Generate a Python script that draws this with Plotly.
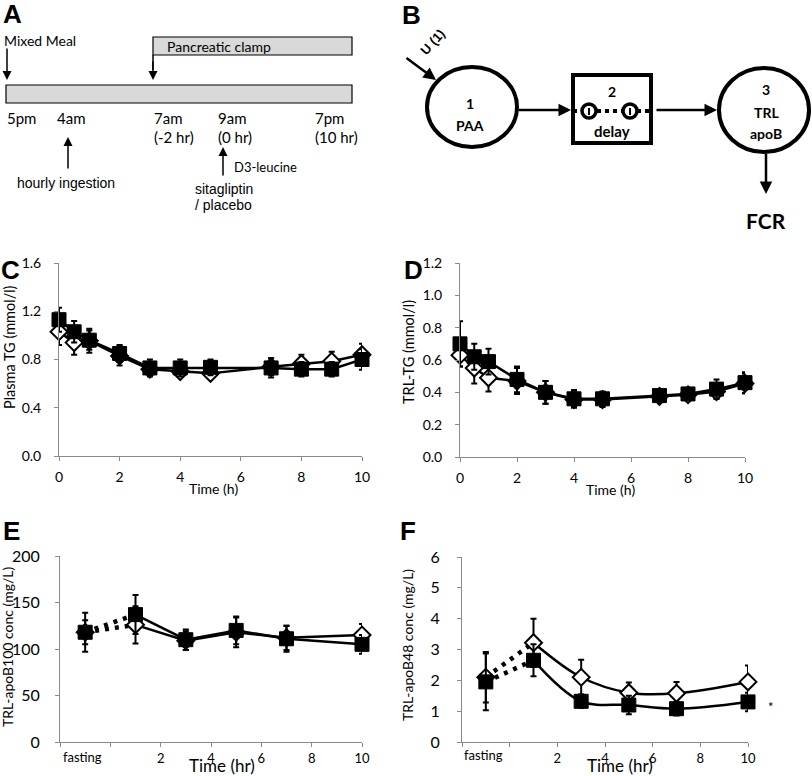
import plotly.graph_objects as go

# ---- data ----
# panel C: plasma TG (mmol/l)
c_time = [0, 0.5, 1, 2, 3, 4, 5, 7, 8, 9, 10]
c_sita = [1.13, 1.03, 0.96, 0.85, 0.73, 0.73, 0.735, 0.73, 0.72, 0.72, 0.80]
c_sita_err = [0.10, 0.09, 0.08, 0.07, 0.07, 0.07, 0.065, 0.08, 0.06, 0.06, 0.085]
c_plac = [1.03, 0.94, 0.955, 0.83, 0.72, 0.70, 0.685, 0.74, 0.765, 0.785, 0.84]
c_plac_err = [0.11, 0.10, 0.10, 0.08, 0.05, 0.03, 0.045, 0.07, 0.075, 0.08, 0.09]

# panel D: TRL-TG (mmol/l)
d_time = [0, 0.5, 1, 2, 3, 4, 5, 7, 8, 9, 10]
d_sita = [0.70, 0.62, 0.59, 0.48, 0.40, 0.36, 0.36, 0.38, 0.39, 0.42, 0.46]
d_sita_err = [0.14, 0.08, 0.08, 0.08, 0.07, 0.055, 0.045, 0.03, 0.035, 0.06, 0.065]
d_plac = [0.63, 0.55, 0.49, 0.47, 0.40, 0.355, 0.355, 0.375, 0.385, 0.405, 0.455]
d_plac_err = [0.07, 0.095, 0.085, 0.08, 0.07, 0.045, 0.045, 0.035, 0.035, 0.045, 0.06]

# panels E/F: first point is "fasting"
ef_time = [-1, 1, 3, 5, 7, 10]
e_sita = [118, 137, 110, 120, 111, 105]
e_sita_err = [13, 21, 11, 15, 14, 10]
e_plac = [118, 126, 109, 118, 112, 115]
e_plac_err = [21, 20, 10, 16, 13, 12]

f_sita = [1.95, 2.65, 1.32, 1.20, 1.08, 1.30]
f_sita_err = [0.92, 0.52, 0.22, 0.30, 0.22, 0.30]
f_plac = [2.10, 3.22, 2.10, 1.60, 1.58, 1.95]
f_plac_err = [0.82, 0.78, 0.57, 0.33, 0.37, 0.53]

W, H = 812, 776
FONT = "Lato, Liberation Sans, sans-serif"
ARIAL = "Liberation Sans, Arial, sans-serif"


def dom_x(a, b):
    return [a / W, b / W]


def dom_y(top, bottom):
    return [1 - bottom / H, 1 - top / H]


fig = go.Figure()

# invisible trace so the drawing axis (whole page, pixel units) exists
fig.add_trace(go.Scatter(x=[0], y=[0], mode="markers", xaxis="x5", yaxis="y5",
                         marker=dict(opacity=0), hoverinfo="skip"))


def add_series(xa, ya, x, sita, sita_err, plac, plac_err, shape="linear", fasting=False):
    start = 1 if fasting else 0
    for ys in (plac, sita):
        if fasting:
            fig.add_trace(go.Scatter(x=x[:2], y=ys[:2], mode="lines", xaxis=xa, yaxis=ya,
                                     line=dict(color="black", width=4.5, dash="4px,6px"),
                                     cliponaxis=False))
        fig.add_trace(go.Scatter(x=x[start:], y=ys[start:], mode="lines", xaxis=xa, yaxis=ya,
                                 line=dict(color="black", width=2.5, shape=shape, smoothing=1),
                                 cliponaxis=False))
    fig.add_trace(go.Scatter(x=x, y=plac, mode="markers", xaxis=xa, yaxis=ya, cliponaxis=False,
                             marker=dict(symbol="diamond", size=13, color="white",
                                         line=dict(color="black", width=2)),
                             error_y=dict(type="data", array=plac_err, color="black",
                                          thickness=2, width=3)))
    fig.add_trace(go.Scatter(x=x, y=sita, mode="markers", xaxis=xa, yaxis=ya, cliponaxis=False,
                             marker=dict(symbol="square", size=14, color="black",
                                         line=dict(color="black", width=1)),
                             error_y=dict(type="data", array=sita_err, color="black",
                                          thickness=2, width=3)))


add_series("x", "y", c_time, c_sita, c_sita_err, c_plac, c_plac_err)
add_series("x2", "y2", d_time, d_sita, d_sita_err, d_plac, d_plac_err)
add_series("x3", "y3", ef_time, e_sita, e_sita_err, e_plac, e_plac_err, fasting=True)
add_series("x4", "y4", ef_time, f_sita, f_sita_err, f_plac, f_plac_err, shape="spline", fasting=True)

axis_common = dict(showline=True, linecolor="#8a8a8a", linewidth=1, ticks="outside",
                   ticklen=4, tickcolor="#8a8a8a", showgrid=False, zeroline=False,
                   automargin=False,
                   tickfont=dict(family=FONT, size=14, color="black"))

fig.update_layout(
    template="none",
    width=W, height=H, margin=dict(l=0, r=0, t=0, b=0, pad=0, autoexpand=False),
    paper_bgcolor="white", plot_bgcolor="rgba(0,0,0,0)", showlegend=False,
    xaxis=dict(domain=dom_x(59, 362), range=[0, 10], tickvals=[0, 2, 4, 6, 8, 10],
               anchor="y", ticklabelstandoff=4, **axis_common),
    yaxis=dict(domain=dom_y(263, 456), range=[0, 1.6], tickvals=[0, 0.4, 0.8, 1.2, 1.6],
               tickformat=".1f", anchor="x", ticklabelstandoff=10, **axis_common),
    xaxis2=dict(domain=dom_x(460, 745), range=[0, 10], tickvals=[0, 2, 4, 6, 8, 10],
                anchor="y2", ticklabelstandoff=4, **axis_common),
    yaxis2=dict(domain=dom_y(263, 457), range=[0, 1.2], tickvals=[0, 0.2, 0.4, 0.6, 0.8, 1.0, 1.2],
                tickformat=".1f", anchor="x2", ticklabelstandoff=10, **axis_common),
    xaxis3=dict(domain=dom_x(60, 362), range=[-2, 10], tickvals=[-2, 0, 2, 4, 6, 8, 10],
                ticktext=["", "", "2", "4", "6", "8", "10"], anchor="y3", **axis_common),
    yaxis3=dict(domain=dom_y(556, 742), range=[0, 200], tickvals=[0, 50, 100, 150, 200],
                anchor="x3", ticklabelstandoff=12, **axis_common),
    xaxis4=dict(domain=dom_x(462, 748), range=[-2, 10], tickvals=[-2, 0, 2, 4, 6, 8, 10],
                ticktext=["", "", "2", "4", "6", "8", "10"], anchor="y4", **axis_common),
    yaxis4=dict(domain=dom_y(557, 742), range=[0, 6], tickvals=[0, 1, 2, 3, 4, 5, 6],
                anchor="x4", ticklabelstandoff=14, **axis_common),
    xaxis5=dict(domain=[0, 1], range=[0, W], visible=False, anchor="y5", automargin=False),
    yaxis5=dict(domain=[0, 1], range=[H, 0], visible=False, anchor="x5", automargin=False),
)
fig.update_layout(xaxis3_tickfont_size=13, xaxis4_tickfont_size=13,
                  yaxis3_tickfont_size=16, yaxis4_tickfont_size=16)

shapes = []
ann = []


def text(x, y, s, size=13, family=FONT, bold=False, xanchor="center", angle=0):
    if bold:
        s = "<b>" + s + "</b>"
    ann.append(dict(x=x, y=y, xref="x5", yref="y5", text=s, showarrow=False,
                    xanchor=xanchor, yanchor="middle", textangle=angle,
                    font=dict(family=family, size=size, color="black")))


def arrow(x0, y0, x1, y1, width=1.5, head=2, size=1.2):
    ann.append(dict(x=x1, y=y1, ax=x0, ay=y0, xref="x5", yref="y5", axref="x5", ayref="y5",
                    text="", showarrow=True, arrowhead=head, arrowsize=size,
                    arrowwidth=width, arrowcolor="black"))


def rect(x0, y0, x1, y1, fill="rgba(0,0,0,0)", lw=1.2):
    shapes.append(dict(type="rect", xref="x5", yref="y5", x0=x0, y0=y0, x1=x1, y1=y1,
                       fillcolor=fill, line=dict(color="black", width=lw)))


def ellipse(x0, y0, x1, y1, lw=4, fill="white"):
    shapes.append(dict(type="circle", xref="x5", yref="y5", x0=x0, y0=y0, x1=x1, y1=y1,
                       fillcolor=fill, line=dict(color="black", width=lw)))


# panel letters
for lx, ly, s in [(12, 14, "A"), (411, 15, "B"), (10, 270, "C"), (413, 270, "D"),
                  (11, 531, "E"), (408, 531, "F")]:
    text(lx, ly, s, size=26, family=ARIAL, bold=True)

# ---- panel A: protocol timeline ----
text(2, 40, "Mixed Meal", size=14, xanchor="left")
arrow(7, 47, 7, 80)
rect(6, 85, 352, 103, fill="#d9d9d9")
rect(153, 37, 352, 55, fill="#d9d9d9")
text(165, 46, "Pancreatic clamp", size=14, xanchor="left")
shapes.append(dict(type="line", xref="x5", yref="y5", x0=153, y0=55, x1=153, y1=70,
                   line=dict(color="black", width=1.5)))
arrow(153, 60, 153, 80)
for lx, top, bottom in [(5, "5pm", ""), (55, "4am", ""), (152, "7am", "(-2 hr)"),
                        (216, "9am", "(0 hr)"), (313, "7pm", "(10 hr)")]:
    text(lx, 118, top, size=15, xanchor="left")
    if bottom:
        text(lx, 137, bottom, size=15, xanchor="left")
arrow(68, 170, 68, 137)
text(15, 183, "hourly ingestion", size=14, family=ARIAL, xanchor="left")
arrow(223, 177, 223, 147)
text(232, 167, "D3-leucine", size=13, xanchor="left")
text(193, 189, "sitagliptin", size=14, family=ARIAL, xanchor="left")
text(193, 205, "/ placebo", size=14, family=ARIAL, xanchor="left")

# ---- panel B: compartment model ----
arrow(405, 57, 436, 80, width=2.5, size=1)
text(432, 42, "U (1)", size=13, family=ARIAL, bold=True, angle=-48)
ellipse(427, 67, 517, 147)
text(470, 103, "1", size=14, bold=True)
text(470, 125, "PAA", size=14, bold=True)
arrow(517, 110, 571, 110, width=2.5, size=1)
rect(573, 75, 651, 143, fill="white", lw=4)
text(612, 91, "2", size=14, bold=True)
text(612, 131, "delay", size=15, bold=True)
shapes.append(dict(type="line", xref="x5", yref="y5", x0=573, y0=111, x1=651, y1=111,
                   line=dict(color="black", width=4, dash="4px,4px")))
for cx in (589, 630):
    ellipse(cx - 7, 104, cx + 7, 118, lw=3.5)
    shapes.append(dict(type="line", xref="x5", yref="y5", x0=cx, y0=108, x1=cx, y1=115,
                       line=dict(color="black", width=2)))
arrow(655, 110, 717, 110, width=2.5, size=1)
ellipse(719, 68, 809, 152)
text(766, 89, "3", size=14, bold=True)
text(766, 112, "TRL", size=14, bold=True)
text(766, 133, "apoB", size=14, bold=True)
arrow(766, 152, 766, 194, width=2.5, size=1)
text(766, 220, "FCR", size=21, bold=True)

# ---- axis titles and extra labels ----
text(9, 347, "Plasma TG (mmol/l)", size=14.5, angle=-90)
text(213, 488, "Time (h)", size=14)
text(408, 352, "TRL-TG (mmol/l)", size=14.5, angle=-90)
text(610, 489, "Time (h)", size=14)
text(7, 647, "TRL-apoB100 conc (mg/L)", size=14, angle=-90)
text(61, 757, "fasting", size=13, xanchor="left")
text(222, 765, "Time (hr)", size=17)
text(407, 645, "TRL-apoB48 conc (mg/L)", size=14, angle=-90)
text(462, 755, "fasting", size=13, xanchor="left")
text(620, 765, "Time (hr)", size=17)
text(771, 707, "*", size=13)

fig.update_layout(shapes=shapes, annotations=ann)

# the page body has a default 8px margin; remove it so the figure sits at the corner
fig.write_html("out.html", config={"displayModeBar": False},
               post_script="document.body.style.margin='0';")
